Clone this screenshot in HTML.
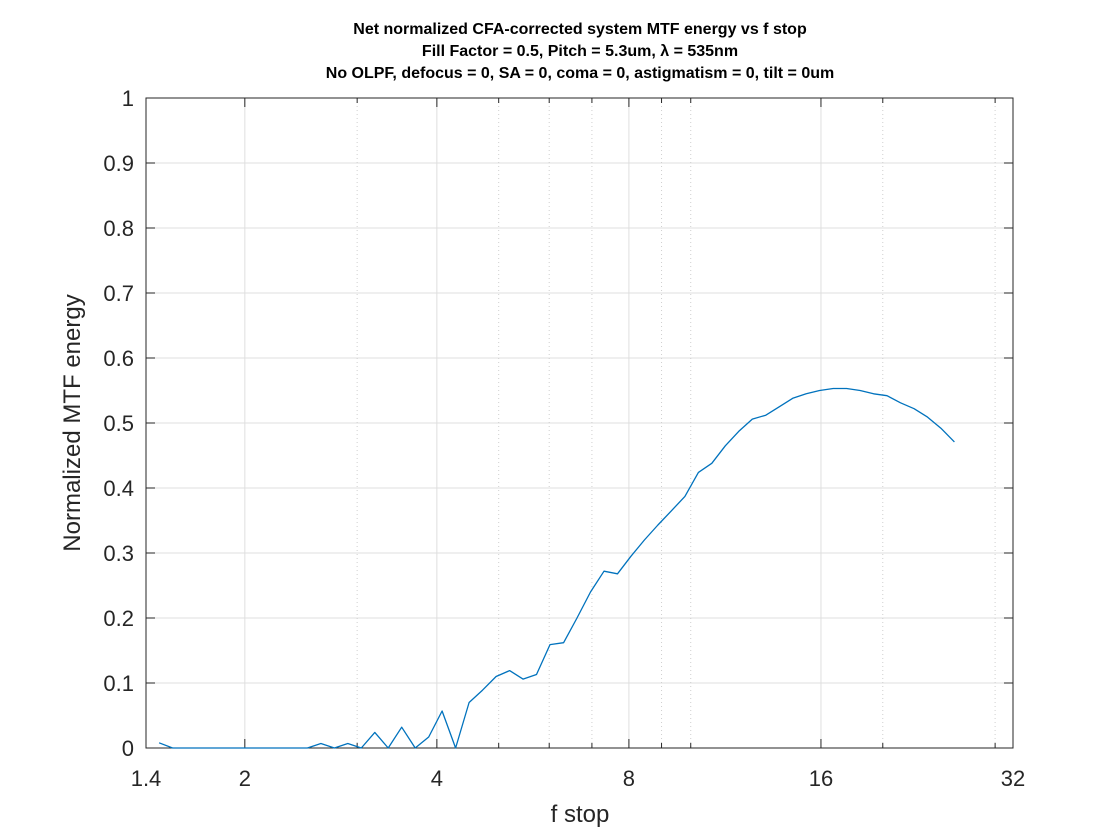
<!DOCTYPE html>
<html><head><meta charset="utf-8"><style>
body{margin:0;background:#fff;}
svg{display:block;font-family:"Liberation Sans",Arial,sans-serif;}
</style></head><body>
<svg id="chart" width="1120" height="840" xmlns="http://www.w3.org/2000/svg">
<rect width="1120" height="840" fill="#fff"/>
<g font-weight="bold" font-size="16" fill="#000" text-anchor="middle">
<text x="580" y="34">Net normalized CFA-corrected system MTF energy vs f stop</text>
<text x="580" y="56">Fill Factor = 0.5, Pitch = 5.3um, λ = 535nm</text>
<text x="580" y="78">No OLPF, defocus = 0, SA = 0, coma = 0, astigmatism = 0, tilt = 0um</text>
</g>
<g id="grid"></g>
<g id="axes"></g>
<g id="series"></g>
<text x="580" y="822" font-size="24" fill="#262626" text-anchor="middle">f stop</text>
<text transform="translate(80,423) rotate(-90)" font-size="24" fill="#262626" text-anchor="middle">Normalized MTF energy</text>
</svg>
<script>
const fStops=[1.468,1.541,1.618,1.699,1.783,1.872,1.966,2.064,2.166,2.274,2.388,2.507,2.632,2.763,2.900,3.045,3.197,3.356,3.523,3.699,3.884,4.077,4.280,4.494,4.718,4.953,5.200,5.459,5.731,6.017,6.319,6.634,6.965,7.312,7.676,8.059,8.461,8.883,9.325,9.790,10.28,10.79,11.33,11.89,12.49,13.11,13.76,14.45,15.17,15.92,16.72,17.55,18.43,19.35,20.31,21.32,22.39,23.50,24.67,25.90];
const mtfEnergy=[0.008,0,0,0,0,0,0,0,0,0,0,0,0.007,0,0.007,0,0.024,0,0.032,0,0.017,0.057,0,0.070,0.089,0.110,0.119,0.106,0.113,0.159,0.162,0.200,0.240,0.272,0.268,0.295,0.320,0.343,0.365,0.387,0.424,0.438,0.465,0.487,0.506,0.512,0.525,0.538,0.545,0.550,0.553,0.553,0.550,0.545,0.542,0.531,0.522,0.509,0.492,0.471];
const xTicks=[1.4,2,4,8,16,32];
const xTickLabels=["1.4","2","4","8","16","32"];
const xMinorTicks=[3,5,6,7,9,10,20,30];
const yTicks=[0,0.1,0.2,0.3,0.4,0.5,0.6,0.7,0.8,0.9,1];
const yTickLabels=["0","0.1","0.2","0.3","0.4","0.5","0.6","0.7","0.8","0.9","1"];
const L=146,R=1013,T=98,B=748,xMin=1.4,xMax=32;
const NS="http://www.w3.org/2000/svg";
function xs(v){return L+(R-L)*Math.log(v/xMin)/Math.log(xMax/xMin);}
function ys(v){return B-(B-T)*v;}
function mk(tag,attrs,parent){const e=document.createElementNS(NS,tag);for(const k in attrs)e.setAttribute(k,attrs[k]);parent.appendChild(e);return e;}
const grid=document.getElementById('grid'),axes=document.getElementById('axes'),series=document.getElementById('series');
yTicks.forEach((v,i)=>{
 const g=mk('line',{x1:L,x2:R,y1:ys(v),y2:ys(v),stroke:'#dfdfdf','stroke-width':1},grid);
 
 
 mk('line',{x1:L,x2:L+9,y1:ys(v),y2:ys(v),stroke:'#262626'},axes);
 mk('line',{x1:R,x2:R-9,y1:ys(v),y2:ys(v),stroke:'#262626'},axes);
 const t=mk('text',{x:L-12,y:ys(v)+8,'font-size':22,fill:'#262626','text-anchor':'end'},axes);
 t.textContent=yTickLabels[i];
 
 
});
xMinorTicks.forEach(v=>{
 const g=mk('line',{x1:xs(v),x2:xs(v),y1:T,y2:B,stroke:'#cfcfcf','stroke-width':1,'stroke-dasharray':'1,3'},grid);
 
 
 mk('line',{x1:xs(v),x2:xs(v),y1:B,y2:B-5,stroke:'#262626'},axes);
 mk('line',{x1:xs(v),x2:xs(v),y1:T,y2:T+5,stroke:'#262626'},axes);
});
xTicks.forEach((v,i)=>{
 const g=mk('line',{x1:xs(v),x2:xs(v),y1:T,y2:B,stroke:'#dfdfdf','stroke-width':1},grid);
 
 
 mk('line',{x1:xs(v),x2:xs(v),y1:B,y2:B-9,stroke:'#262626'},axes);
 mk('line',{x1:xs(v),x2:xs(v),y1:T,y2:T+9,stroke:'#262626'},axes);
 const t=mk('text',{x:xs(v),y:B+38,'font-size':22,fill:'#262626','text-anchor':'middle'},axes);
 t.textContent=xTickLabels[i];
 
 
});
const box=mk('rect',{x:L,y:T,width:R-L,height:B-T,fill:'none',stroke:'#262626','stroke-width':1},axes);


const pts=fStops.map((f,i)=>xs(f).toFixed(1)+','+ys(mtfEnergy[i]).toFixed(1)).join(' ');
const line=mk('polyline',{points:pts,fill:'none',stroke:'#0072BD','stroke-width':1.3,'stroke-linejoin':'round'},series);


</script>
</body></html>
